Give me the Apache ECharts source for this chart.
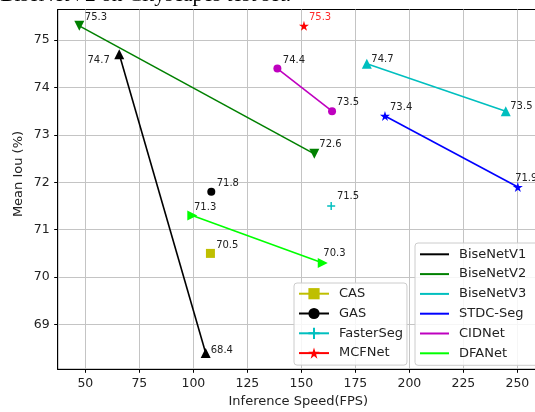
<!DOCTYPE html>
<html>
<head>
<meta charset="utf-8">
<script src="https://cdn.jsdelivr.net/npm/echarts@6/dist/echarts.min.js"></script>
<style>
  html, body { margin: 0; padding: 0; background: #fff; }
  #chart { width: 535px; height: 412px; }
</style>
</head>
<body>
<div id="chart"></div>
<script>
// tick labels
const xTicks = [50, 75, 100, 125, 150, 175, 200, 225, 250];
const yTicks = [69, 70, 71, 72, 73, 74, 75];

// models drawn as two-point lines
const lineModels = ['BiseNetV1', 'BiseNetV2', 'BiseNetV3', 'STDC-Seg', 'CIDNet', 'DFANet'];
const lineSpeed = [[65.7, 105.7], [47.2, 156.0], [180.3, 244.6], [188.7, 250.2], [138.9, 164.2], [99.5, 159.9]];
const lineMiou = [[74.7, 68.4], [75.3, 72.6], [74.5, 73.5], [73.4, 71.9], [74.4, 73.5], [71.3, 70.3]];
const lineText = [['74.7', '68.4'], ['75.3', '72.6'], ['74.7', '73.5'], ['73.4', '71.9'], ['74.4', '73.5'], ['71.3', '70.3']];

// single-point models
const pointModels = ['CAS', 'GAS', 'FasterSeg', 'MCFNet'];
const pointSpeed = [107.9, 108.3, 163.8, 151.2];
const pointMiou = [70.5, 71.8, 71.5, 75.3];
const pointText = ['70.5', '71.8', '71.5', '75.3'];

const STAR = 'path://M50,0 L61,35 L98,35 L68,57 L79,91 L50,70 L21,91 L32,57 L2,35 L39,35 Z';
const PLUS = 'path://M41,0H59V41H100V59H59V100H41V59H0V41H41Z';

const lineStyles = [
    { color: '#000000', symbol: 'triangle', rotate: 0, size: 10, off: [[-9.5, 6.5, 'right'], [5, -3]] },
    { color: '#008000', symbol: 'triangle', rotate: 180, size: 10, off: [[5.5, -8.7], [5, -9]] },
    { color: '#00bfbf', symbol: 'triangle', rotate: 0, size: 10, off: [[4.5, -4], [4.5, -5]] },
    { color: '#0000ff', symbol: STAR, rotate: 0, size: 10, off: [[5, -8.7], [-2.7, -8.7]] },
    { color: '#bf00bf', symbol: 'circle', rotate: 0, size: 8, off: [[5.4, -8.3], [4.7, -9]] },
    { color: '#00ff00', symbol: 'triangle', rotate: -90, size: 10, off: [[1.7, -7.7], [0.6, -9]] }
];
const pointStyles = [
    { color: '#bfbf00', symbol: 'rect', size: 9, off: [5.7, -8] },
    { color: '#000000', symbol: 'circle', size: 8, off: [5.4, -8] },
    { color: '#00bfbf', symbol: PLUS, size: 8, off: [5.7, -9.3] },
    { color: '#ff0000', symbol: STAR, size: 10, off: [5, -8.7], text: '#ff2a2a' }
];

function makeLabel(text, off, color) {
    return {
        show: true,
        formatter: text,
        position: 'inside',
        align: off[2] || 'left',
        verticalAlign: 'middle',
        offset: [off[0], off[1]],
        fontSize: 10,
        fontFamily: 'DejaVu Sans',
        color: color || '#222'
    };
}

const series = [];
lineModels.forEach((name, i) => {
    const st = lineStyles[i];
    series.push({
        name: name,
        type: 'line',
        symbol: st.symbol,
        symbolSize: st.size,
        symbolRotate: st.rotate,
        lineStyle: { color: st.color, width: 1.6 },
        itemStyle: { color: st.color },
        data: lineSpeed[i].map((x, j) => ({
            value: [x, lineMiou[i][j]],
            label: makeLabel(lineText[i][j], st.off[j])
        })),
        z: 3
    });
});
pointModels.forEach((name, i) => {
    const st = pointStyles[i];
    series.push({
        name: name,
        type: 'line',
        symbol: st.symbol,
        symbolSize: st.size,
        lineStyle: { color: st.color, width: 1.6 },
        itemStyle: { color: st.color },
        data: [{
            value: [pointSpeed[i], pointMiou[i]],
            label: makeLabel(pointText[i], st.off, st.text)
        }],
        z: 3
    });
});

const legendBase = {
    orient: 'vertical',
    itemWidth: 30,
    itemHeight: 14,
    itemGap: 5.8,
    borderColor: '#cccccc',
    borderWidth: 1,
    borderRadius: 3,
    backgroundColor: 'rgba(255,255,255,0.85)',
    textStyle: { fontSize: 13, fontFamily: 'DejaVu Sans', color: '#222', padding: [0, 0, 0, 5], lineHeight: 14 }
};

const chart = echarts.init(document.getElementById('chart'));
chart.setOption({
    animation: false,
    grid: {
        left: 57.7, top: 9.5, right: -4, bottom: 42.7,
        outerBoundsMode: 'none',
        containLabel: false,
        show: true, borderColor: '#000', borderWidth: 1
    },
    xAxis: {
        type: 'value',
        min: 37.2, max: 260,
        minInterval: 25, maxInterval: 25,
        axisLine: { show: true, lineStyle: { color: '#000', width: 1 } },
        axisTick: { show: true, length: 3.5, lineStyle: { color: '#000' }, customValues: xTicks },
        axisLabel: {
            customValues: xTicks, margin: 8, fontSize: 12.5,
            fontFamily: 'DejaVu Sans', color: '#222'
        },
        splitLine: { show: true, lineStyle: { color: '#c4c4c4', width: 1 } },
        name: 'Inference Speed(FPS)',
        nameLocation: 'middle',
        nameGap: 26,
        nameTextStyle: { fontSize: 13, fontFamily: 'DejaVu Sans', color: '#222', verticalAlign: 'top' }
    },
    yAxis: {
        type: 'value',
        min: 68.055, max: 75.645,
        minInterval: 1, maxInterval: 1,
        axisLine: { show: true, lineStyle: { color: '#000', width: 1 } },
        axisTick: { show: true, length: 3.5, lineStyle: { color: '#000' }, customValues: yTicks },
        axisLabel: {
            customValues: yTicks, margin: 8, fontSize: 12.5,
            fontFamily: 'DejaVu Sans', color: '#222'
        },
        splitLine: { show: true, lineStyle: { color: '#c4c4c4', width: 1 } }
    },
    legend: [
        Object.assign({}, legendBase, {
            data: pointModels,
            left: 294, top: 283,
            padding: [3.7, 4, 5, 4]
        }),
        Object.assign({}, legendBase, {
            data: lineModels,
            left: 415, top: 243,
            padding: [4.3, 14, 5, 4],
            itemWidth: 29,
            itemStyle: { opacity: 0 }
        })
    ],
    graphic: [
        {
            type: 'text', x: 19, y: 174, rotation: Math.PI / 2,
            style: {
                text: 'Mean Iou (%)', fontSize: 13, fontFamily: 'DejaVu Sans',
                fill: '#222', align: 'center', verticalAlign: 'middle'
            }
        },
        {
            type: 'text', x: 291, y: 6,
            style: {
                text: 'Speed-accuracy comparison on BiseNetV2 on Cityscapes test set.',
                fontSize: 21.5, fontFamily: 'Liberation Serif', fill: '#000',
                align: 'right', verticalAlign: 'bottom'
            }
        }
    ],
    series: series
});
</script>
</body>
</html>
